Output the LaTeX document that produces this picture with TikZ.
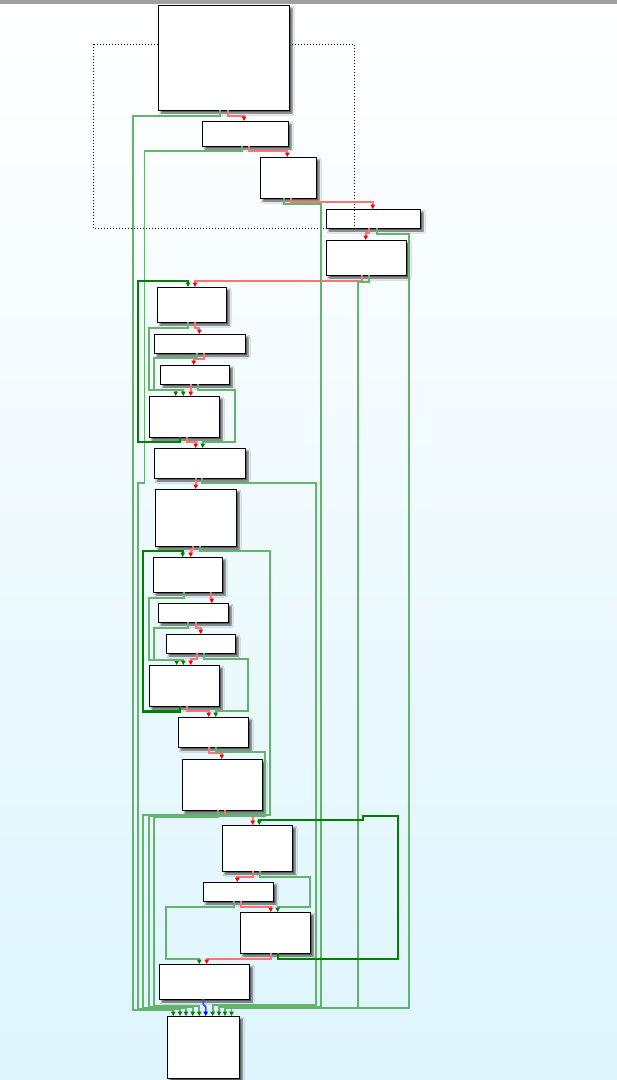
\documentclass[tikz,border=0pt]{standalone}
\usetikzlibrary{arrows.meta,shadows.blur}
\definecolor{bgc}{RGB}{222,245,254}
\definecolor{barc}{RGB}{160,160,160}
\definecolor{redln}{RGB}{255,115,115}
\definecolor{redtip}{RGB}{255,0,0}
\definecolor{grnln}{RGB}{100,180,110}
\definecolor{grntip}{RGB}{0,128,0}
\definecolor{bluln}{RGB}{70,70,255}
\definecolor{blutip}{RGB}{0,0,255}
\tikzset{
  box/.style={draw=black, fill=white, line width=1pt, inner sep=0pt, outer sep=0pt, anchor=north west,
    blur shadow={shadow xshift=3pt, shadow yshift=-3pt, shadow blur radius=2pt, shadow opacity=70}},
  redl/.style={draw=redln, line width=1.8pt, -{Triangle[length=4.5pt,width=4.5pt,color=redtip]}},
  grnl/.style={draw=grnln, line width=1.8pt, -{Triangle[length=4.5pt,width=4.5pt,color=grntip]}},
  thickg/.style={draw=grntip, line width=2.4pt, -{Triangle[length=4.5pt,width=4.5pt,color=grntip]}},
  blul/.style={draw=bluln, line width=1.8pt, -{Triangle[length=4.5pt,width=4.5pt,color=blutip]}},
  frame/.style={draw=black, line width=1pt, dotted}
}
\begin{document}
\begin{tikzpicture}[x=1pt,y=-1pt]
\useasboundingbox (0,0) rectangle (617,1080);
\shade[top color=white, bottom color=bgc] (0,4) rectangle (617,1080);
\fill[barc] (0,0) rectangle (617,4);

% nodes
\node[box, minimum width=86pt, minimum height=25pt] (n2) at (202,121) {};
\node[box, minimum width=56pt, minimum height=41pt] (n3) at (260,157) {};
\node[box, minimum width=94pt, minimum height=19pt] (n4) at (326,209) {};
\node[box, minimum width=80pt, minimum height=35pt] (n5) at (326,240) {};
\node[box, minimum width=69pt, minimum height=35pt] (n6) at (157,287) {};
\node[box, minimum width=91pt, minimum height=19pt] (n7) at (154,334) {};
\node[box, minimum width=69pt, minimum height=19pt] (n8) at (160,365) {};
\node[box, minimum width=70pt, minimum height=41pt] (n9) at (149,396) {};
\node[box, minimum width=91pt, minimum height=30pt] (n10) at (154,448) {};
\node[box, minimum width=81pt, minimum height=57pt] (n11) at (155,489) {};
\node[box, minimum width=69pt, minimum height=35pt] (n12) at (153,557) {};
\node[box, minimum width=70pt, minimum height=19pt] (n13) at (158,603) {};
\node[box, minimum width=69pt, minimum height=19pt] (n14) at (166,634) {};
\node[box, minimum width=70pt, minimum height=41pt] (n15) at (149,665) {};
\node[box, minimum width=70pt, minimum height=30pt] (n16) at (178,717) {};
\node[box, minimum width=80pt, minimum height=51pt] (n17) at (182,759) {};
\node[box, minimum width=70pt, minimum height=46pt] (n18) at (222,825) {};
\node[box, minimum width=70pt, minimum height=19pt] (n19) at (203,882) {};
\node[box, minimum width=70pt, minimum height=41pt] (n20) at (240,912) {};
\node[box, minimum width=90pt, minimum height=35pt] (n21) at (159,964) {};
\node[box, minimum width=72pt, minimum height=62pt] (n22) at (167,1016) {};

% dotted frame, then top node over it
\draw[frame] (93.3,44.3) rectangle (354.3,228.3);
\node[box, minimum width=131pt, minimum height=105pt] (n1) at (158,5) {};

% red (fall-through) edges
\draw[redl] (227.7,0 |- n1.south) |- (244,116) -- (244,0 |- n2.north);
\draw[redl] (249,0 |- n2.south) |- (287.3,150.7) -- (287.3,0 |- n3.north);
\draw[redl] (290.7,0 |- n3.south) |- (372.7,202.3) -- (372.7,0 |- n4.north);
\draw[redl] (369,0 |- n4.south) |- (365.7,233.3) -- (365.7,0 |- n5.north);
\draw[redl] (362.3,0 |- n5.south) |- (195,281) -- (195,0 |- n6.north);
\draw[redl] (194.7,0 |- n6.south) |- (199.3,328.3) -- (199.3,0 |- n7.north);
\draw[redl] (203.7,0 |- n7.south) |- (193.7,359.3) -- (193.7,0 |- n8.north);
\draw[redl] (190.7,0 |- n8.south) -- (190.7,0 |- n9.north);
\draw[redl] (186.7,0 |- n9.south) |- (195.7,442) -- (195.7,0 |- n10.north);
\draw[redl] (195.7,0 |- n10.south) -- (195.7,0 |- n11.north);
\draw[redl] (193,0 |- n11.south) -- (193,549) -- (190.7,552) -- (190.7,0 |- n12.north);
\draw[redl] (210.7,0 |- n12.south) -- (210.7,597) -- (211.7,599) -- (211.7,0 |- n13.north);
\draw[redl] (195.7,0 |- n13.south) |- (200.7,627.7) -- (200.7,0 |- n14.north);
\draw[redl] (197.3,0 |- n14.south) |- (190.7,659) -- (190.7,0 |- n15.north);
\draw[redl] (186.7,0 |- n15.south) |- (208.7,711.3) -- (208.7,0 |- n16.north);
\draw[redl] (208.7,0 |- n16.south) |- (221.7,753.3) -- (221.7,0 |- n17.north);
\draw[redl] (225,0 |- n17.south) |- (252.7,815.7) -- (252.7,0 |- n18.north);
\draw[redl] (253,0 |- n18.south) |- (237.3,876.7) -- (237.3,0 |- n19.north);
\draw[redl] (240.7,0 |- n19.south) |- (270.7,906.7) -- (270.7,0 |- n20.north);
\draw[redl] (271.3,0 |- n20.south) |- (206.7,958.7) -- (206.7,0 |- n21.north);
\draw[blul] (203.3,0 |- n21.south) -- (203.3,1004) -- (205.7,1007) -- (205.7,0 |- n22.north);

% green (jump) edges
\draw[grnl] (219.7,0 |- n1.south) |- (133,116) -- (133,1010) -| (173.3,0 |- n22.north);
\draw[grnl] (242,0 |- n2.south) |- (144.5,151) |- (137.7,483.3) -- (137.7,1009) -| (180,0 |- n22.north);
\draw[grnl] (284,0 |- n3.south) |- (320.7,203.7) -- (320.7,1006.7) -| (219,0 |- n22.north);
\draw[grnl] (376.7,0 |- n4.south) |- (408.7,233.7) -- (408.7,1008.3) -| (231.5,0 |- n22.north);
\draw[grnl] (369.3,0 |- n5.south) |- (358,282) -- (358,1007.7) -| (225,0 |- n22.north);
\draw[grnl] (188.3,0 |- n6.south) |- (149.3,327.7) |- (175.7,390) -- (175.7,0 |- n9.north);
\draw[grnl] (197.3,0 |- n7.south) |- (154,358) |- (183.3,390) -- (183.3,0 |- n9.north);
\draw[grnl] (197.7,0 |- n8.south) |- (235,389.7) |- (202.7,442) -- (202.7,0 |- n10.north);
\draw[grnl] (202.3,0 |- n10.south) |- (315.7,483.3) -- (315.7,1005) -| (212.7,0 |- n22.north);
\draw[grnl] (200,0 |- n11.south) |- (270,550.7) |- (143,815) -- (143,1008) -| (186,0 |- n22.north);
\draw[grnl] (184,0 |- n12.south) |- (149.3,597.7) |- (176.7,660) -- (176.7,0 |- n15.north);
\draw[grnl] (188,0 |- n13.south) |- (154,627.7) |- (183.3,660) -- (183.3,0 |- n15.north);
\draw[grnl] (204,0 |- n14.south) |- (248,659) |- (215.7,711.3) -- (215.7,0 |- n16.north);
\draw[grnl] (216,0 |- n16.south) |- (265,751.7) |- (149,816.3) -- (149,1007) -| (192.7,0 |- n22.north);
\draw[grnl] (217.7,0 |- n17.south) |- (154,817.3) -- (154,1006) -| (199.3,0 |- n22.north);
\draw[grnl] (260,0 |- n18.south) |- (310,876.7) |- (277.7,906.7) -- (277.7,0 |- n20.north);
\draw[grnl] (234.3,0 |- n19.south) |- (166,906.7) |- (199.3,958.7) -- (199.3,0 |- n21.north);

% loop back edges
\draw[thickg] (180,0 |- n9.south) |- (137.7,442) |- (188,281) -- (188,0 |- n6.north);
\draw[thickg] (180,0 |- n15.south) |- (142.7,711.3) |- (182.7,550.7) -- (182.7,0 |- n12.north);
\draw[thickg] (277.7,0 |- n20.south) |- (398,958.7) |- (363,815.7) |- (259.3,820) -- (259.3,0 |- n18.north);
\end{tikzpicture}
\end{document}
